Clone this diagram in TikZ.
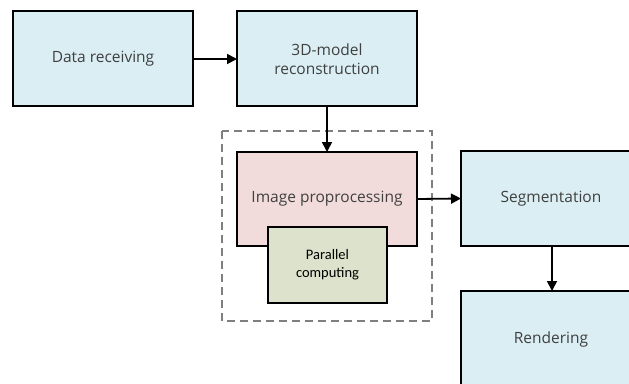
\documentclass[tikz,border=0pt]{standalone}
\usepackage{fontspec}
\setmainfont{Open Sans}
\newfontfamily\calibrifont{Carlito}
\usetikzlibrary{arrows.meta}
\definecolor{boxblue}{HTML}{DAEEF3}
\definecolor{boxpink}{HTML}{F2DCDB}
\definecolor{boxgreen}{HTML}{DCE2CB}
\definecolor{labelgray}{HTML}{404040}
\definecolor{dashgray}{HTML}{7F7F7F}
\tikzset{
  stage/.style={draw=black, line width=2pt, fill=boxblue},
  lbl/.style={text=labelgray, align=center, font=\fontsize{15.5}{19}\selectfont},
  link/.style={line width=1.8pt, -{Triangle[length=10pt,width=10pt]}},
}
\begin{document}
\begin{tikzpicture}[x=1pt,y=-1pt]
\useasboundingbox (0,0) rectangle (629,383);
\clip (0,0) rectangle (629,383);
% group frame around the preprocessing stage
\draw[dashgray, line width=1.4pt, dash pattern=on 8pt off 5pt] (222,131) rectangle (432,321);
% boxes given by their corners
\draw[stage] (13,11) rectangle (193,106);
\node[lbl] (recv) at (103,59) {Data receiving};
\coordinate (recvE) at (193,59);
\draw[stage] (237,11) rectangle (417,106);
\node[lbl] (recon) at (327,59) {3D-model\\reconstruction};
\coordinate (reconW) at (237,59);
\coordinate (reconS) at (327,106);
\draw[stage, fill=boxpink] (237,152) rectangle (417,246);
\node[lbl] (prep) at (327,199) {Image proprocessing};
\coordinate (prepN) at (327,152);
\coordinate (prepE) at (417,199);
\draw[draw=black, line width=1.2pt, fill=boxgreen] (268,227) rectangle (387,303);
\node[align=center, font=\calibrifont\fontsize{14.5}{18}\selectfont] (par) at (327.5,265) {Parallel\\computing};
\draw[stage] (461,151) rectangle (641,246);
\node[lbl] (seg) at (551,198.5) {Segmentation};
\coordinate (segW) at (461,198.5);
\coordinate (segS) at (552,246);
\draw[stage] (461,291) rectangle (641,400);
\node[lbl] (rend) at (551,339) {Rendering};
\coordinate (rendN) at (552,291);
% connectors
\draw[link] (recvE) -- (reconW);
\draw[link] (reconS) -- (prepN);
\draw[link] (prepE) -- (segW);
\draw[link] (segS) -- (rendN);
\end{tikzpicture}
\end{document}
